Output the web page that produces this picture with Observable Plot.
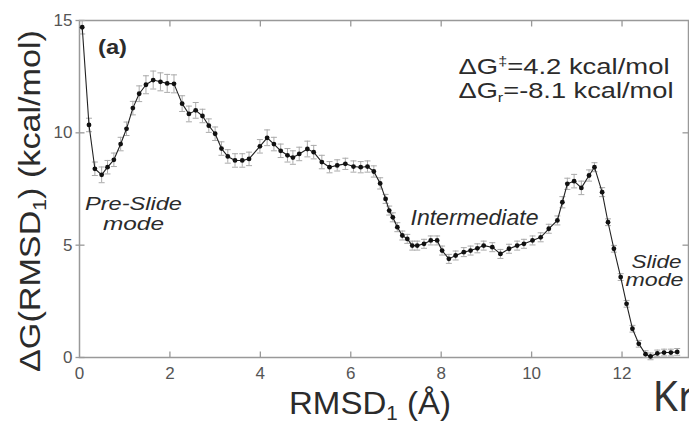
<!DOCTYPE html>
<html>
<head>
<meta charset="utf-8">
<script src="https://cdn.jsdelivr.net/npm/d3@7"></script>
<script src="https://cdn.jsdelivr.net/npm/@observablehq/plot@0.6"></script>
<style>
  html, body { margin: 0; padding: 0; background: #fff; }
</style>
</head>
<body>
<div id="chart"></div>
<script>
// RMSD1 (Å) positions of the umbrella-sampling windows
const rmsd = [0.06,0.21,0.34,0.49,0.62,0.76,0.91,1.04,1.18,1.32,1.47,1.63,1.79,1.94,2.09,2.27,2.42,2.57,2.72,2.86,3.0,3.14,3.28,3.44,3.6,3.75,3.99,4.15,4.3,4.45,4.6,4.72,4.86,5.04,5.18,5.36,5.53,5.7,5.88,6.06,6.22,6.37,6.51,6.65,6.77,6.85,6.93,7.03,7.14,7.25,7.36,7.47,7.62,7.77,7.91,8.02,8.17,8.32,8.5,8.65,8.8,8.94,9.13,9.31,9.5,9.68,9.83,10.02,10.2,10.38,10.57,10.68,10.79,10.94,11.1,11.27,11.39,11.56,11.69,11.82,11.97,12.1,12.23,12.37,12.52,12.63,12.78,12.93,13.08,13.22];
// free energy ΔG (kcal/mol)
const dG = [14.7,10.35,8.4,8.13,8.47,8.8,9.5,10.18,11.1,11.74,12.14,12.35,12.27,12.2,12.18,11.3,10.84,11.0,10.75,10.32,9.96,9.3,8.95,8.77,8.77,8.84,9.4,9.78,9.5,9.2,9.0,8.9,9.06,9.28,9.14,8.7,8.47,8.55,8.62,8.5,8.47,8.5,8.28,7.75,7.06,6.54,6.24,5.8,5.43,5.28,4.98,4.98,5.06,5.21,5.21,4.76,4.39,4.54,4.69,4.76,4.86,4.98,4.91,4.61,4.84,4.98,5.06,5.21,5.35,5.73,6.1,6.91,7.73,7.85,7.55,8.1,8.47,7.36,6.02,4.84,3.58,2.39,1.28,0.61,0.15,0.05,0.18,0.22,0.22,0.25];
// statistical error (kcal/mol)
const err = [0.3,0.3,0.3,0.35,0.3,0.3,0.3,0.3,0.3,0.35,0.4,0.4,0.4,0.4,0.4,0.35,0.35,0.35,0.3,0.3,0.3,0.3,0.3,0.3,0.3,0.3,0.3,0.35,0.3,0.3,0.3,0.3,0.3,0.35,0.3,0.3,0.25,0.25,0.25,0.25,0.25,0.25,0.25,0.25,0.2,0.2,0.2,0.2,0.2,0.2,0.2,0.2,0.2,0.2,0.2,0.2,0.2,0.2,0.2,0.2,0.2,0.2,0.2,0.2,0.2,0.2,0.2,0.2,0.2,0.2,0.2,0.25,0.25,0.3,0.3,0.25,0.2,0.2,0.15,0.15,0.15,0.15,0.15,0.15,0.15,0.15,0.15,0.15,0.15,0.15];

const xTicks = [0,2,4,6,8,10,12];
const yTicks = [0,5,10,15];
const yInnerTicks = [5,10];
const xLabel = "RMSD\u2081 (\u00c5)";
const yLabel = "\u0394G(RMSD\u2081) (kcal/mol)";
const barrierText = "\u0394G\u2021=4.2 kcal/mol";
const reactionText = "\u0394Gr=-8.1 kcal/mol";

const data = rmsd.map((x, i) => ({x, y: dG[i], lo: dG[i] - err[i], hi: dG[i] + err[i]}));

const cap = {draw(ctx) { ctx.moveTo(-3, 0); ctx.lineTo(3, 0); }};
const tickUp = {draw(ctx) { ctx.moveTo(0, 0); ctx.lineTo(0, -6); }};
const tickDown = {draw(ctx) { ctx.moveTo(0, 0); ctx.lineTo(0, 6); }};
const tickCross = {draw(ctx) { ctx.moveTo(-4, 0); ctx.lineTo(5, 0); }};
const tickLeft = {draw(ctx) { ctx.moveTo(0, 0); ctx.lineTo(-6, 0); }};

const ink = "#2b2b2b";
const frameColor = "#999";
const sans = "'Liberation Sans', Arial, Helvetica, sans-serif";

const chart = Plot.plot({
  width: 689,
  height: 423,
  marginLeft: 79,
  marginRight: 1,
  marginTop: 20,
  marginBottom: 66,
  style: {background: "#fff", color: "#555", fontFamily: sans, fontSize: "17px"},
  x: {domain: [0, 13.47], ticks: xTicks, tickSize: 0, tickPadding: 9, label: null},
  y: {domain: [0, 15], ticks: yTicks, tickSize: 0, tickPadding: 7, label: null},
  marks: [
    Plot.frame({stroke: frameColor, strokeWidth: 1.5}),
    Plot.dot(xTicks.slice(1), {x: d => d, frameAnchor: "bottom", symbol: tickUp, stroke: frameColor, strokeWidth: 1.3, fill: "none"}),
    Plot.dot(xTicks.slice(1), {x: d => d, frameAnchor: "top", symbol: tickDown, stroke: frameColor, strokeWidth: 1.3, fill: "none"}),
    Plot.dot(yTicks, {y: d => d, frameAnchor: "left", symbol: tickCross, stroke: frameColor, strokeWidth: 1.3, fill: "none"}),
    Plot.dot(yInnerTicks, {y: d => d, frameAnchor: "right", symbol: tickLeft, stroke: frameColor, strokeWidth: 1.3, fill: "none"}),
    Plot.ruleX(data, {x: "x", y1: "lo", y2: "hi", stroke: "#aaa", strokeWidth: 1}),
    Plot.dot(data, {x: "x", y: "lo", symbol: cap, stroke: "#aaa", strokeWidth: 1, fill: "none"}),
    Plot.dot(data, {x: "x", y: "hi", symbol: cap, stroke: "#aaa", strokeWidth: 1, fill: "none"}),
    Plot.line(data, {x: "x", y: "y", stroke: "#222", strokeWidth: 1.1}),
    Plot.dot(data, {x: "x", y: "y", fill: "#111", r: 2.4}),
    // annotations
    Plot.text(["(a)"], {frameAnchor: "top-left", dx: 33, dy: 27, lineAnchor: "middle", textAnchor: "middle", fontSize: 21, fontWeight: "bold", fill: ink}),
    Plot.text([barrierText], {frameAnchor: "top-left", dx: 379, dy: 53, lineAnchor: "bottom", textAnchor: "start", fontSize: 22, fill: ink}),
    Plot.text([reactionText], {frameAnchor: "top-left", dx: 379, dy: 77, lineAnchor: "bottom", textAnchor: "start", fontSize: 22, fill: ink}),
    Plot.text(["Pre-Slide"], {frameAnchor: "top-left", dx: 54, dy: 183, lineAnchor: "middle", textAnchor: "middle", fontSize: 19, fontStyle: "italic", fill: ink}),
    Plot.text(["mode"], {frameAnchor: "top-left", dx: 54, dy: 203, lineAnchor: "middle", textAnchor: "middle", fontSize: 19, fontStyle: "italic", fill: ink}),
    Plot.text(["Intermediate"], {frameAnchor: "top-left", dx: 395, dy: 197, lineAnchor: "middle", textAnchor: "middle", fontSize: 22, fontStyle: "italic", fill: ink}),
    Plot.text(["Slide"], {frameAnchor: "top-right", dx: -7, dy: 242, lineAnchor: "middle", textAnchor: "end", fontSize: 18, fontStyle: "italic", fill: ink}),
    Plot.text(["mode"], {frameAnchor: "top-right", dx: -5, dy: 260, lineAnchor: "middle", textAnchor: "end", fontSize: 18, fontStyle: "italic", fill: ink}),
    // axis titles
    Plot.text([xLabel], {frameAnchor: "bottom", dx: -14, dy: 46, lineAnchor: "middle", textAnchor: "middle", fontSize: 32, fill: ink}),
    Plot.text([yLabel], {frameAnchor: "left", dx: -49, dy: 12, rotate: -90, lineAnchor: "middle", textAnchor: "middle", fontSize: 29, fill: ink}),
    Plot.text(["Kr"], {frameAnchor: "bottom-right", dx: -36, dy: 53, lineAnchor: "bottom", textAnchor: "start", fontSize: 41, fill: "#333", fontFamily: "'Noto Sans', 'Open Sans', sans-serif"})
  ]
});

// typographic touch-ups: superscript/subscript and widths matching the original lettering
const svg = d3.select(chart);
const widths = {
  "(a)": 29, "Pre-Slide": 97, "Intermediate": 128, "Slide": 50
};
svg.selectAll("text").each(function() {
  const t = this.textContent;
  const el = d3.select(this);
  if (t === barrierText) {
    el.text(null);
    el.append("tspan").text("\u0394G");
    el.append("tspan").attr("font-size", 13).attr("dy", -9).text("\u2021");
    el.append("tspan").attr("dy", 9).text("=4.2 kcal/mol");
    el.attr("textLength", 211).attr("lengthAdjust", "spacingAndGlyphs");
  } else if (t === reactionText) {
    el.text(null);
    el.append("tspan").text("\u0394G");
    el.append("tspan").attr("font-size", 13).attr("dy", 4).text("r");
    el.append("tspan").attr("dy", -4).text("=-8.1 kcal/mol");
    el.attr("textLength", 215).attr("lengthAdjust", "spacingAndGlyphs");
  } else if (t === xLabel) {
    el.text(null);
    el.append("tspan").text("RMSD");
    el.append("tspan").attr("font-size", 20).attr("dy", 6).text("1");
    el.append("tspan").attr("dy", -6).text(" (\u00c5)");
    el.attr("textLength", 162).attr("lengthAdjust", "spacingAndGlyphs");
  } else if (t === yLabel) {
    el.text(null);
    el.append("tspan").text("\u0394G(RMSD");
    el.append("tspan").attr("font-size", 18).attr("dy", 6).text("1");
    el.append("tspan").attr("dy", -6).text(") (kcal/mol)");
    el.attr("textLength", 342).attr("lengthAdjust", "spacingAndGlyphs");
  } else if (widths[t] !== undefined) {
    el.attr("textLength", widths[t]).attr("lengthAdjust", "spacingAndGlyphs");
  }
});
const modes = svg.selectAll("text").filter(function() { return this.textContent === "mode"; }).nodes();
if (modes[0]) modes[0].setAttribute("textLength", 61), modes[0].setAttribute("lengthAdjust", "spacingAndGlyphs");
if (modes[1]) modes[1].setAttribute("textLength", 58), modes[1].setAttribute("lengthAdjust", "spacingAndGlyphs");

document.getElementById("chart").appendChild(chart);
</script>
</body>
</html>
